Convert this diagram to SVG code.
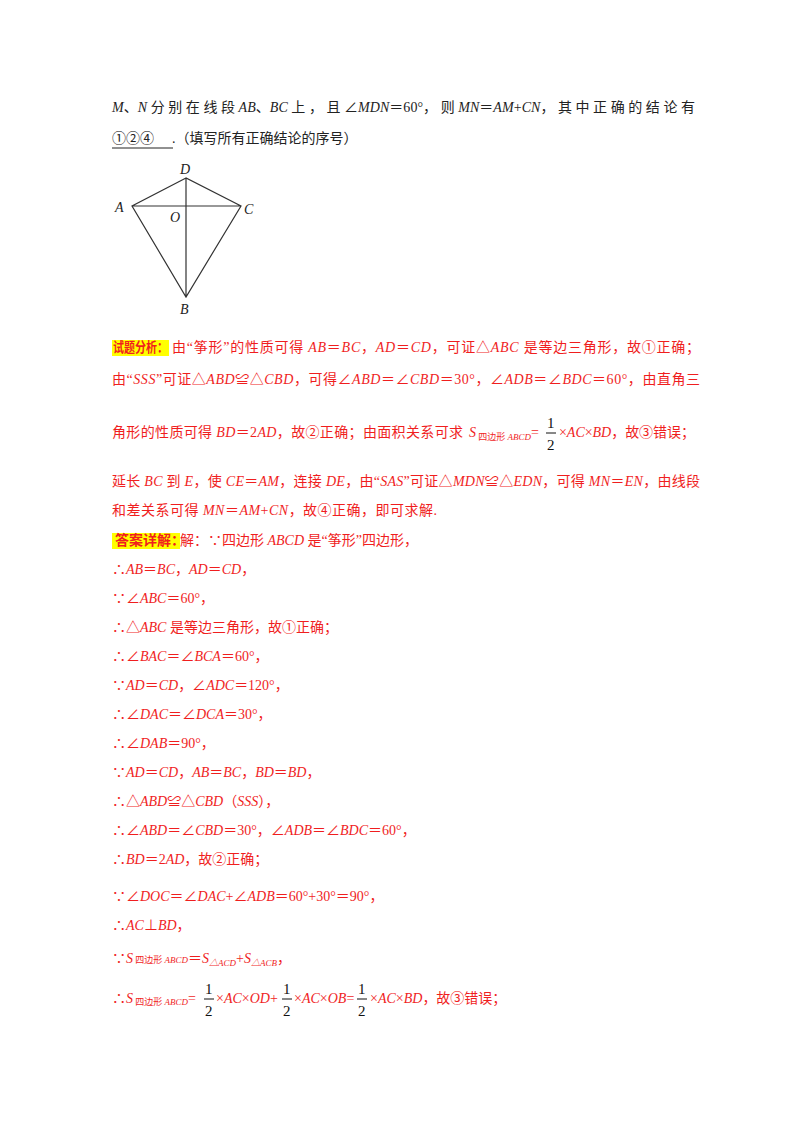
<svg xmlns="http://www.w3.org/2000/svg" width="800" height="1132" viewBox="0 0 800 1132">
<style>
text{font-family:"Liberation Serif","Noto Sans CJK SC",serif;font-size:14px}
.i{font-style:italic}
.r{fill:#f01e1e}
.k{fill:#222}
.fr{fill:#111;font-size:15px}
.line{stroke:#333;stroke-width:1.2;fill:none}
</style>
<rect width="800" height="1132" fill="#fff"/>
<g id="question" class="k">
<text x="112" y="112" textLength="583" lengthAdjust="spacing"><tspan class="i">M</tspan>、<tspan class="i">N</tspan> 分 别 在 线 段 <tspan class="i">AB</tspan>、<tspan class="i">BC</tspan> 上 ， 且 ∠<tspan class="i">MDN</tspan>＝60°， 则 <tspan class="i">MN</tspan>＝<tspan class="i">AM</tspan>+<tspan class="i">CN</tspan>， 其 中 正 确 的 结 论 有</text>
<text x="112" y="143">①②④<tspan dx="18">.</tspan>（填写所有正确结论的序号）</text>
<line x1="112" y1="148" x2="173" y2="148" stroke="#222" stroke-width="1"/>
</g>
<g id="figure">
<path class="line" d="M186,178 L132,206 L186,297 L241,206 Z M132,206 L241,206 M186,178 L186,297"/>
<text x="180" y="174" class="i k" font-size="13">D</text>
<text x="115" y="212" class="i k" font-size="13">A</text>
<text x="244" y="214" class="i k" font-size="13">C</text>
<text x="170" y="222" class="i k" font-size="13">O</text>
<text x="180" y="314" class="i k" font-size="13">B</text>
</g>
<g id="analysis" class="r">
<rect x="112" y="340" width="57" height="16" fill="#ffff00"/>
<text x="113" y="352" font-weight="bold" font-size="13" textLength="55" lengthAdjust="spacingAndGlyphs">试题分析：</text>
<text x="172" y="352" textLength="528" lengthAdjust="spacing">由“筝形”的性质可得 <tspan class="i">AB</tspan>＝<tspan class="i">BC</tspan>，<tspan class="i">AD</tspan>＝<tspan class="i">CD</tspan>，可证△<tspan class="i">ABC</tspan> 是等边三角形，故①正确；</text>
<text x="112" y="384" textLength="588" lengthAdjust="spacing">由“<tspan class="i">SSS</tspan>”可证△<tspan class="i">ABD</tspan>≌△<tspan class="i">CBD</tspan>，可得∠<tspan class="i">ABD</tspan>＝∠<tspan class="i">CBD</tspan>＝30°，∠<tspan class="i">ADB</tspan>＝∠<tspan class="i">BDC</tspan>＝60°，由直角三</text>
<text x="112" y="437" textLength="351" lengthAdjust="spacing">角形的性质可得 <tspan class="i">BD</tspan>＝2<tspan class="i">AD</tspan>，故②正确；由面积关系可求</text>
<text x="469" y="437"><tspan class="i">S</tspan><tspan font-size="9" dy="3"> 四边形 </tspan><tspan font-size="9" class="i">ABCD</tspan><tspan dy="-3">=</tspan></text>
<text x="547" y="428" class="fr">1</text><line x1="546" y1="433" x2="556" y2="433" stroke="#111"/><text x="547" y="450" class="fr">2</text>
<text x="559" y="437" textLength="136" lengthAdjust="spacing">×<tspan class="i">AC</tspan>×<tspan class="i">BD</tspan>，故③错误；</text>
<text x="112" y="486" textLength="588" lengthAdjust="spacing">延长 <tspan class="i">BC</tspan> 到 <tspan class="i">E</tspan>，使 <tspan class="i">CE</tspan>＝<tspan class="i">AM</tspan>，连接 <tspan class="i">DE</tspan>，由“<tspan class="i">SAS</tspan>”可证△<tspan class="i">MDN</tspan>≌△<tspan class="i">EDN</tspan>，可得 <tspan class="i">MN</tspan>＝<tspan class="i">EN</tspan>，由线段</text>
<text x="112" y="515" textLength="325" lengthAdjust="spacing">和差关系可得 <tspan class="i">MN</tspan>＝<tspan class="i">AM</tspan>+<tspan class="i">CN</tspan>，故④正确，即可求解.</text>
</g>
<g id="answer" class="r">
<rect x="112" y="533" width="68" height="16" fill="#ffff00"/>
<text x="115" y="545" font-weight="bold" font-size="13">答案详解：</text>
<text x="180" y="545">解：∵四边形 <tspan class="i">ABCD</tspan> 是“筝形”四边形，</text>
<text x="112" y="574">∴<tspan class="i">AB</tspan>＝<tspan class="i">BC</tspan>，<tspan class="i">AD</tspan>＝<tspan class="i">CD</tspan>，</text>
<text x="112" y="603">∵∠<tspan class="i">ABC</tspan>＝60°，</text>
<text x="112" y="632">∴△<tspan class="i">ABC</tspan> 是等边三角形，故①正确；</text>
<text x="112" y="661">∴∠<tspan class="i">BAC</tspan>＝∠<tspan class="i">BCA</tspan>＝60°，</text>
<text x="112" y="690">∵<tspan class="i">AD</tspan>＝<tspan class="i">CD</tspan>，∠<tspan class="i">ADC</tspan>＝120°，</text>
<text x="112" y="719">∴∠<tspan class="i">DAC</tspan>＝∠<tspan class="i">DCA</tspan>＝30°，</text>
<text x="112" y="748">∴∠<tspan class="i">DAB</tspan>＝90°，</text>
<text x="112" y="777">∵<tspan class="i">AD</tspan>＝<tspan class="i">CD</tspan>，<tspan class="i">AB</tspan>＝<tspan class="i">BC</tspan>，<tspan class="i">BD</tspan>＝<tspan class="i">BD</tspan>，</text>
<text x="112" y="806">∴△<tspan class="i">ABD</tspan>≌△<tspan class="i">CBD</tspan>（<tspan class="i">SSS</tspan>），</text>
<text x="112" y="835">∴∠<tspan class="i">ABD</tspan>＝∠<tspan class="i">CBD</tspan>＝30°，∠<tspan class="i">ADB</tspan>＝∠<tspan class="i">BDC</tspan>＝60°，</text>
<text x="112" y="864">∴<tspan class="i">BD</tspan>＝2<tspan class="i">AD</tspan>，故②正确；</text>
<text x="112" y="901">∵∠<tspan class="i">DOC</tspan>＝∠<tspan class="i">DAC</tspan>+∠<tspan class="i">ADB</tspan>＝60°+30°＝90°，</text>
<text x="112" y="930">∴<tspan class="i">AC</tspan>⊥<tspan class="i">BD</tspan>，</text>
<text x="112" y="963">∵<tspan class="i">S</tspan><tspan font-size="9"> 四边形 </tspan><tspan font-size="9" class="i">ABCD</tspan>＝<tspan class="i">S</tspan><tspan font-size="9" class="i" dy="3">△ACD</tspan><tspan dy="-3">+</tspan><tspan class="i">S</tspan><tspan font-size="9" class="i" dy="3">△ACB</tspan><tspan dy="-3">，</tspan></text>
<text x="112" y="1003">∴<tspan class="i">S</tspan><tspan font-size="9" dy="2"> 四边形 </tspan><tspan font-size="9" class="i">ABCD</tspan><tspan dy="-2">=</tspan></text>
<text x="205" y="994" class="fr">1</text><line x1="204" y1="999" x2="214" y2="999" stroke="#111"/><text x="205" y="1016" class="fr">2</text>
<text x="216" y="1003">×<tspan class="i">AC</tspan>×<tspan class="i">OD</tspan>+</text>
<text x="283" y="994" class="fr">1</text><line x1="282" y1="999" x2="292" y2="999" stroke="#111"/><text x="283" y="1016" class="fr">2</text>
<text x="294" y="1003">×<tspan class="i">AC</tspan>×<tspan class="i">OB</tspan>=</text>
<text x="358" y="994" class="fr">1</text><line x1="357" y1="999" x2="367" y2="999" stroke="#111"/><text x="358" y="1016" class="fr">2</text>
<text x="370" y="1003">×<tspan class="i">AC</tspan>×<tspan class="i">BD</tspan>，故③错误；</text>
</g>
</svg>
